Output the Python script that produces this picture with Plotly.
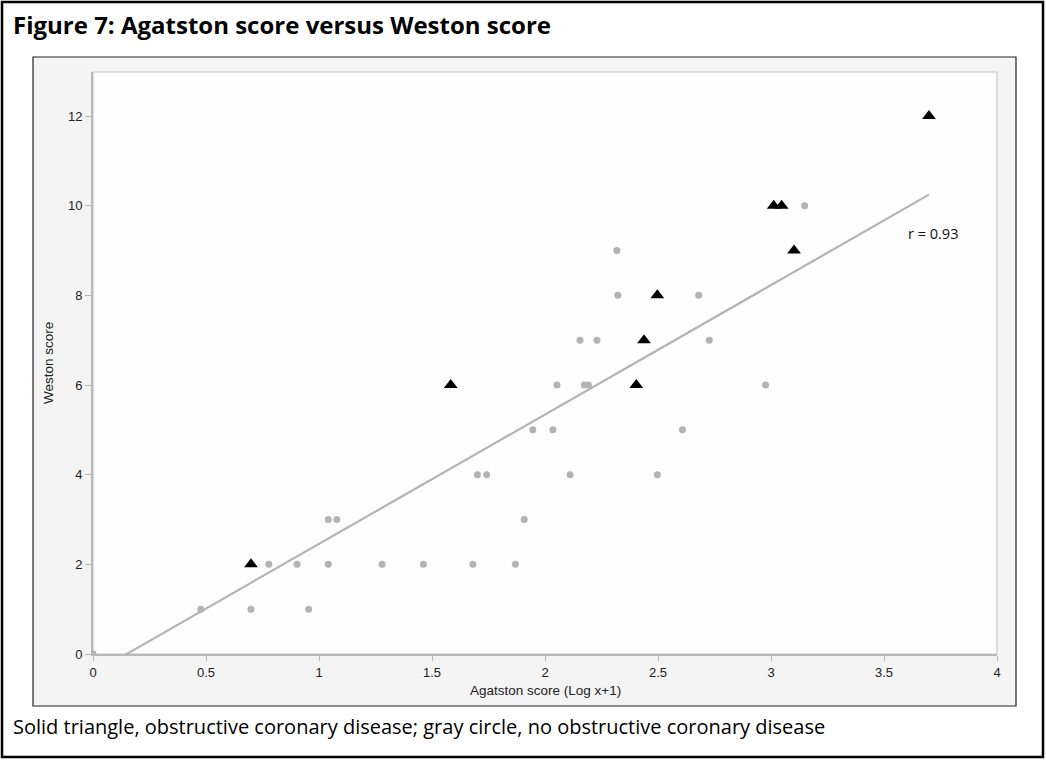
import plotly.graph_objects as go

# ---- data ----
# gray circles: no obstructive coronary disease
circle_x = [0.0, 0.477, 0.699, 0.954, 0.778, 0.903, 1.041, 1.041, 1.079, 1.279,
            1.462, 1.681, 1.869, 1.908, 1.701, 1.742, 2.111, 2.497, 1.946, 2.035,
            2.608, 2.053, 2.174, 2.192, 2.976, 2.155, 2.230, 2.727, 2.322, 2.680,
            2.318, 3.149]
circle_y = [0, 1, 1, 1, 2, 2, 2, 3, 3, 2,
            2, 2, 2, 3, 4, 4, 4, 4, 5, 5,
            5, 6, 6, 6, 6, 7, 7, 7, 8, 8,
            9, 10]
# solid triangles: obstructive coronary disease
tri_x = [0.699, 1.583, 2.404, 2.438, 2.497, 3.012, 3.047, 3.102, 3.699]
tri_y = [2, 6, 6, 7, 8, 10, 10, 9, 12]

# fitted line
fit_intercept = -0.430
fit_slope = 2.886
r_text = "r = 0.93"

x_ticks = [0, 0.5, 1, 1.5, 2, 2.5, 3, 3.5, 4]
x_tick_text = ["0", "0.5", "1", "1.5", "2", "2.5", "3", "3.5", "4"]
y_ticks = [0, 2, 4, 6, 8, 10, 12]

title_text = "Figure 7: Agatston score versus Weston score"
caption_text = "Solid triangle, obstructive coronary disease; gray circle, no obstructive coronary disease"
x_title = "Agatston score (Log x+1)"
y_title = "Weston score"

# ---- layout geometry ----
W, H = 1046, 760
L, R, T, B = 93, 997, 72, 654


def px(xp):
    return (xp - L) / (R - L)


def py(yp):
    return (B - yp) / (B - T)


all_x = circle_x + tri_x
fx = [min(all_x), max(all_x)]
fy = [fit_intercept + fit_slope * v for v in fx]

fig = go.Figure()
fig.add_trace(go.Scatter(x=fx, y=fy, mode="lines",
                         line=dict(color="#b4b4b4", width=2.2),
                         hoverinfo="skip", showlegend=False))
fig.add_trace(go.Scatter(x=circle_x, y=circle_y, mode="markers",
                         marker=dict(symbol="circle", size=7, color="#b3b3b3"),
                         cliponaxis=True, showlegend=False))
fig.add_trace(go.Scatter(x=tri_x, y=tri_y, mode="markers",
                         marker=dict(symbol="triangle-up", size=12, color="black"),
                         cliponaxis=False, showlegend=False))

shapes = [
    dict(type="rect", xref="paper", yref="paper", layer="below",
         x0=px(33), x1=px(1016), y0=py(706), y1=py(57),
         fillcolor="#f4f4f4", line=dict(color="#222222", width=1.2)),
    dict(type="rect", xref="paper", yref="paper", layer="below",
         x0=0, x1=1, y0=0, y1=1,
         fillcolor="#fdfdfd", line=dict(color="#c8c8c8", width=1.2)),
    dict(type="rect", xref="paper", yref="paper", layer="above",
         x0=px(2), x1=px(1043), y0=py(757), y1=py(2),
         fillcolor="rgba(0,0,0,0)", line=dict(color="black", width=2.5)),
]

annotations = [
    dict(text=r_text, x=3.717, y=9.38, xref="x", yref="y", showarrow=False,
         font=dict(family="Open Sans, Lato, sans-serif", size=14.5, color="#111")),
    dict(text="<b>" + title_text + "</b>", x=px(11), y=py(24), xref="paper", yref="paper",
         xanchor="left", yanchor="middle", showarrow=False,
         font=dict(family="Open Sans, Lato, sans-serif", size=24, color="black")),
    dict(text=caption_text, x=px(11), y=py(726), xref="paper", yref="paper",
         xanchor="left", yanchor="middle", showarrow=False,
         font=dict(family="Open Sans, Lato, sans-serif", size=20, color="black")),
    dict(text=x_title, x=0.5, y=py(690), xref="paper", yref="paper",
         xanchor="center", yanchor="middle", showarrow=False,
         font=dict(family="Liberation Sans Narrow, Liberation Sans, Arial, sans-serif", size=13.5, color="#222")),
    dict(text=y_title, x=px(48), y=py(363), xref="paper", yref="paper",
         xanchor="center", yanchor="middle", showarrow=False, textangle=-90,
         font=dict(family="Liberation Sans Narrow, Liberation Sans, Arial, sans-serif", size=13.5, color="#222")),
]

fig.update_layout(
    width=W, height=H,
    margin=dict(l=L, r=W - R, t=T, b=H - B, pad=0),
    paper_bgcolor="white", plot_bgcolor="#fdfdfd",
    shapes=shapes, annotations=annotations,
    showlegend=False,
    font=dict(family="Liberation Sans, Arial, sans-serif", size=12, color="#222"),
)
fig.update_xaxes(range=[0, 4], tickvals=x_ticks, ticktext=x_tick_text,
                 showgrid=False, zeroline=False, showline=True,
                 linecolor="#b8b8b8", linewidth=2, ticks="outside", ticklen=5,
                 tickcolor="#b8b8b8", tickwidth=1.2,
                 tickfont=dict(size=13, color="#222"))
fig.update_yaxes(range=[0, (B - T) / ((B - 116) / 12)], tickvals=y_ticks,
                 showgrid=False, zeroline=False, showline=True,
                 linecolor="#b8b8b8", linewidth=2, ticks="outside", ticklen=6,
                 tickcolor="#b8b8b8", tickwidth=1.2,
                 tickfont=dict(size=13, color="#222"))

fig.write_html("out.html", config={"displayModeBar": False},
               post_script="document.body.style.margin='0px';document.body.style.overflow='hidden';")
